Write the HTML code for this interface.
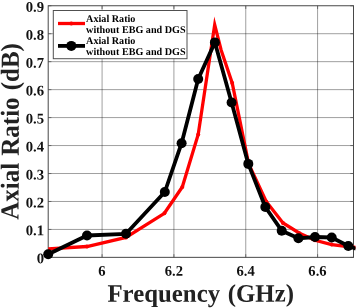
<!DOCTYPE html>
<html><head><meta charset="utf-8"><title>Axial Ratio</title>
<style>html,body{margin:0;padding:0;background:#fff}</style></head>
<body>
<svg width="357" height="308" viewBox="0 0 357 308" style="display:block;font-family:'Liberation Serif',serif;font-weight:bold;text-rendering:geometricPrecision">
<rect width="357" height="308" fill="#fff"/>
<g stroke="#000" stroke-opacity="0.42" stroke-width="0.9"><line x1="102.08" y1="5.75" x2="102.08" y2="257.4"/><line x1="173.91" y1="5.75" x2="173.91" y2="257.4"/><line x1="245.75" y1="5.75" x2="245.75" y2="257.4"/><line x1="317.58" y1="5.75" x2="317.58" y2="257.4"/><line x1="48.2" y1="229.44" x2="353.5" y2="229.44"/><line x1="48.2" y1="201.48" x2="353.5" y2="201.48"/><line x1="48.2" y1="173.52" x2="353.5" y2="173.52"/><line x1="48.2" y1="145.56" x2="353.5" y2="145.56"/><line x1="48.2" y1="117.59" x2="353.5" y2="117.59"/><line x1="48.2" y1="89.63" x2="353.5" y2="89.63"/><line x1="48.2" y1="61.67" x2="353.5" y2="61.67"/><line x1="48.2" y1="33.71" x2="353.5" y2="33.71"/></g>
<g stroke="#555" stroke-width="0.8"><line x1="102.08" y1="257.4" x2="102.08" y2="254.2"/><line x1="102.08" y1="5.75" x2="102.08" y2="8.95"/><line x1="173.91" y1="257.4" x2="173.91" y2="254.2"/><line x1="173.91" y1="5.75" x2="173.91" y2="8.95"/><line x1="245.75" y1="257.4" x2="245.75" y2="254.2"/><line x1="245.75" y1="5.75" x2="245.75" y2="8.95"/><line x1="317.58" y1="257.4" x2="317.58" y2="254.2"/><line x1="317.58" y1="5.75" x2="317.58" y2="8.95"/><line x1="48.2" y1="257.40" x2="51.400000000000006" y2="257.40"/><line x1="353.5" y1="257.40" x2="350.3" y2="257.40"/><line x1="48.2" y1="229.44" x2="51.400000000000006" y2="229.44"/><line x1="353.5" y1="229.44" x2="350.3" y2="229.44"/><line x1="48.2" y1="201.48" x2="51.400000000000006" y2="201.48"/><line x1="353.5" y1="201.48" x2="350.3" y2="201.48"/><line x1="48.2" y1="173.52" x2="51.400000000000006" y2="173.52"/><line x1="353.5" y1="173.52" x2="350.3" y2="173.52"/><line x1="48.2" y1="145.56" x2="51.400000000000006" y2="145.56"/><line x1="353.5" y1="145.56" x2="350.3" y2="145.56"/><line x1="48.2" y1="117.59" x2="51.400000000000006" y2="117.59"/><line x1="353.5" y1="117.59" x2="350.3" y2="117.59"/><line x1="48.2" y1="89.63" x2="51.400000000000006" y2="89.63"/><line x1="353.5" y1="89.63" x2="350.3" y2="89.63"/><line x1="48.2" y1="61.67" x2="51.400000000000006" y2="61.67"/><line x1="353.5" y1="61.67" x2="350.3" y2="61.67"/><line x1="48.2" y1="33.71" x2="51.400000000000006" y2="33.71"/><line x1="353.5" y1="33.71" x2="350.3" y2="33.71"/><line x1="48.2" y1="5.75" x2="51.400000000000006" y2="5.75"/><line x1="353.5" y1="5.75" x2="350.3" y2="5.75"/></g>
<rect x="48.2" y="5.75" width="305.3" height="251.6" fill="none" stroke="#484848" stroke-width="1"/>
<clipPath id="c"><rect x="42.2" y="5.75" width="313.3" height="255.6"/></clipPath>
<g clip-path="url(#c)">
<polyline points="48.2,248.8 87.0,246.5 126.0,237.4 164.4,213.3 182.3,187.0 198.2,134.5 214.7,24.8 221.1,50.0 232.2,83.0 248.7,164.0 266.2,201.5 283.0,223.0 299.5,233.2 315.0,240.3 331.7,244.6 356.0,247.5" fill="none" stroke="#f00" stroke-width="3.3" stroke-linejoin="miter" stroke-miterlimit="20"/>
<g fill="#f00"><circle cx="87" cy="246.5" r="2"/><circle cx="126" cy="237.4" r="2"/><circle cx="164.4" cy="213.3" r="2"/><circle cx="182.3" cy="187" r="2"/><circle cx="198.2" cy="134.5" r="2"/><circle cx="232.2" cy="83" r="2"/><circle cx="248.7" cy="164" r="2"/><circle cx="266.2" cy="201.5" r="2"/><circle cx="283" cy="223" r="2"/><circle cx="299.5" cy="233.2" r="2"/><circle cx="315" cy="240.3" r="2"/><circle cx="331.7" cy="244.6" r="2"/></g>
<polyline points="48.2,254.2 87.0,235.5 126.0,233.8 164.8,192.0 181.6,143.2 198.2,79.0 214.9,42.4 231.6,102.5 248.3,163.9 265.3,207.0 281.7,230.7 298.4,238.3 315.0,237.0 331.7,237.5 348.3,246.0 356.0,248.8" fill="none" stroke="#000" stroke-width="3.8" stroke-linejoin="round"/>
<g fill="#000"><circle cx="48.2" cy="254.2" r="5"/><circle cx="87" cy="235.5" r="5"/><circle cx="126" cy="233.8" r="5"/><circle cx="164.8" cy="192" r="5"/><circle cx="181.6" cy="143.2" r="5"/><circle cx="198.2" cy="79" r="5"/><circle cx="214.9" cy="42.4" r="5"/><circle cx="231.6" cy="102.5" r="5"/><circle cx="248.3" cy="163.9" r="5"/><circle cx="265.3" cy="207" r="5"/><circle cx="281.7" cy="230.7" r="5"/><circle cx="298.4" cy="238.3" r="5"/><circle cx="315" cy="237" r="5"/><circle cx="331.7" cy="237.5" r="5"/><circle cx="348.3" cy="246" r="5"/></g>
</g>
<rect x="53.3" y="10.5" width="133.7" height="48.2" fill="#fff" stroke="#505050" stroke-width="1"/>
<line x1="58" y1="23.5" x2="85" y2="23.5" stroke="#f00" stroke-width="3.3"/>
<circle cx="71.3" cy="23.5" r="2.1" fill="#f00"/>
<line x1="58" y1="45.9" x2="85" y2="45.9" stroke="#000" stroke-width="3.8"/>
<circle cx="71.3" cy="45.9" r="5" fill="#000"/>
<g font-size="10.3" fill="#000">
<text transform="translate(86.1,22) scale(0.985,1)">Axial Ratio</text>
<text transform="translate(86.1,33.1) scale(0.985,1)">without EBG and DGS</text>
<text transform="translate(86.1,44.4) scale(0.985,1)">Axial Ratio</text>
<text transform="translate(86.1,55.2) scale(0.985,1)">without EBG and DGS</text>
</g>
<g font-size="14.8" fill="#111">
<text transform="translate(44.1,263.3) rotate(-0.2) scale(0.998,1)" text-anchor="end">0</text>
<text transform="translate(44.1,235.3) rotate(-0.2) scale(0.998,1)" text-anchor="end">0.1</text>
<text transform="translate(44.1,207.4) rotate(-0.2) scale(0.998,1)" text-anchor="end">0.2</text>
<text transform="translate(44.1,179.4) rotate(-0.2) scale(0.998,1)" text-anchor="end">0.3</text>
<text transform="translate(44.1,151.5) rotate(-0.2) scale(0.998,1)" text-anchor="end">0.4</text>
<text transform="translate(44.1,123.5) rotate(-0.2) scale(0.998,1)" text-anchor="end">0.5</text>
<text transform="translate(44.1,95.5) rotate(-0.2) scale(0.998,1)" text-anchor="end">0.6</text>
<text transform="translate(44.1,67.6) rotate(-0.2) scale(0.998,1)" text-anchor="end">0.7</text>
<text transform="translate(44.1,39.6) rotate(-0.2) scale(0.998,1)" text-anchor="end">0.8</text>
<text transform="translate(44.1,11.7) rotate(-0.2) scale(0.998,1)" text-anchor="end">0.9</text>
<text transform="translate(102.0,275.7) rotate(-0.2) scale(0.989,1)" text-anchor="middle">6</text>
<text transform="translate(173.8,275.7) rotate(-0.2) scale(0.989,1)" text-anchor="middle">6.2</text>
<text transform="translate(245.6,275.7) rotate(-0.2) scale(0.989,1)" text-anchor="middle">6.4</text>
<text transform="translate(317.5,275.7) rotate(-0.2) scale(0.989,1)" text-anchor="middle">6.6</text>
</g>
<text transform="translate(200.7,301.7) rotate(-0.06) scale(0.986,1)" font-size="25.2" word-spacing="1.5" text-anchor="middle" fill="#222">Frequency (GHz)</text>
<text transform="translate(18.7,131.4) rotate(-89.93) scale(0.96,1)" font-size="26" word-spacing="1" text-anchor="middle" fill="#222">Axial Ratio (dB)</text>
</svg>
</body></html>
